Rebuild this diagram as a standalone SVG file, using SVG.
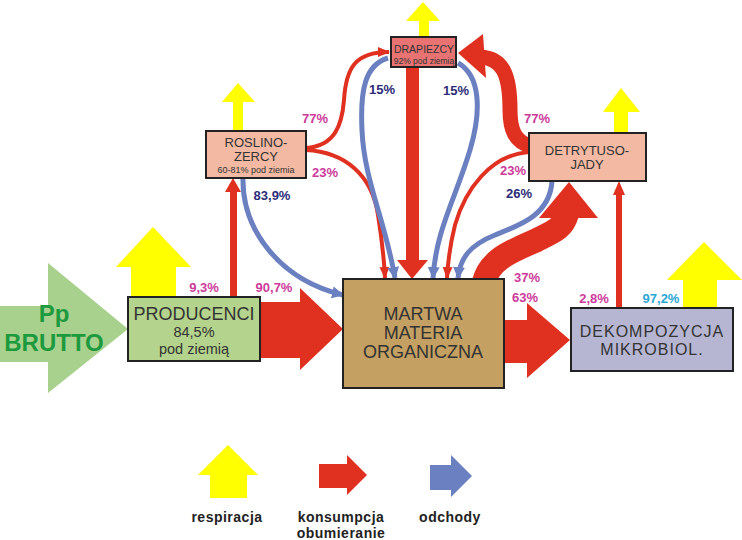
<svg xmlns="http://www.w3.org/2000/svg" width="742" height="540" viewBox="0 0 742 540">
<defs>
<style>
.box{stroke:#222;stroke-width:2}
.t{font-family:"Liberation Sans",Arial,sans-serif;fill:#333;text-anchor:middle}
.lab{font-family:"Liberation Sans",Arial,sans-serif;font-weight:bold;font-size:13px;text-anchor:middle}
.pink{fill:#cc3a9a}
.navy{fill:#2c2c78}
.cyan{fill:#2aa6d6}
.yel{fill:#ffff00}
.red{fill:#e03020}
.blu{fill:#6b80c0}
.rline{fill:none;stroke:#e03020;stroke-width:4}
.bline{fill:none;stroke:#6b80c0;stroke-width:5}
.leg{font-family:"Liberation Sans",Arial,sans-serif;font-weight:bold;font-size:14px;fill:#222;text-anchor:middle}
</style>
<marker id="ahR" viewBox="0 0 12 10" refX="11" refY="5" markerWidth="12" markerHeight="10" markerUnits="userSpaceOnUse" orient="auto"><path d="M0,0 L12,5 L0,10 z" fill="#e03020"/></marker>
<marker id="ahB" viewBox="0 0 12 12" refX="11" refY="6" markerWidth="12" markerHeight="13" markerUnits="userSpaceOnUse" orient="auto"><path d="M0,0 L12,6 L0,12 z" fill="#6b80c0"/></marker>
</defs>
<rect width="742" height="540" fill="#ffffff"/>

<g id="respiration">
<polygon class="yel" points="131,297 131,267 116,267 153,227 191,267 176,267 176,297"/>
<polygon class="yel" points="233,131 233,102 222,102 238,83 255,102 243,102 243,131"/>
<polygon class="yel" points="419,37 419,21 406,21 423,2 440,21 429,21 429,37"/>
<polygon class="yel" points="614,133 614,112 603,112 621,88 640,112 628,112 628,133"/>
<polygon class="yel" points="683,308 683,280 667,280 704,242 742,280 717,280 717,308"/>
</g>

<g id="connectors">
<!-- Pp brutto input -->
<polygon points="0,306 48,306 48,263 128,329 48,393 48,362 0,362" fill="#a9d18e"/>
<!-- producenci -> martwa -->
<polygon class="red" points="260,302 300,302 300,288 343,329 300,370 300,358 260,358"/>
<!-- producenci -> roslinozercy -->
<rect class="red" x="230" y="190" width="7" height="107"/>
<polygon class="red" points="225,192 241,192 233,178"/>
<!-- martwa -> dekompozycja -->
<polygon class="red" points="504,320 527,320 527,303 570,340 527,378 527,363 504,363"/>
<!-- dekompozycja -> detrytusojady -->
<rect class="red" x="616" y="193" width="6" height="115"/>
<polygon class="red" points="613,195 625,195 619,181"/>
<!-- drapiezcy -> martwa thick -->
<rect class="red" x="406" y="67" width="13" height="195"/>
<polygon class="red" points="397,260 428,260 412,279"/>
<!-- martwa -> detrytusojady thick curve -->
<path d="M 484 282 C 490 258, 515 250, 537 240 C 555 231, 563 228, 567 214" fill="none" stroke="#e03020" stroke-width="24"/>
<polygon class="red" points="539,218 598,218 569,182"/>
<!-- detrytusojady -> drapiezcy thick curve -->
<path d="M 531 146 C 515 142, 510 130, 510 110 C 510 75, 503 58, 480 57" fill="none" stroke="#e03020" stroke-width="15"/>
<polygon class="red" points="458,53 483,34 486,78"/>
<!-- thin red -->
<path class="rline" d="M 306 148 C 335 146, 342 125, 344 100 C 346 68, 355 52, 389 52" marker-end="url(#ahR)"/>
<path class="rline" d="M 306 150 C 345 152, 372 175, 378 215 C 382 240, 384 258, 385 278" marker-end="url(#ahR)"/>
<path class="rline" d="M 529 152 C 490 155, 465 190, 455 225 C 450 245, 448 260, 447 278" marker-end="url(#ahR)"/>
<!-- blue -->
<path class="bline" d="M 388 58 C 365 65, 360 90, 362 130 C 364 180, 385 220, 395 278" marker-end="url(#ahB)"/>
<path class="bline" d="M 458 63 C 480 75, 482 110, 470 150 C 455 200, 436 230, 433 278" marker-end="url(#ahB)"/>
<path class="bline" d="M 552 181 C 550 215, 520 225, 495 235 C 470 245, 460 258, 458 278" marker-end="url(#ahB)"/>
<path class="bline" d="M 243 178 C 242 230, 280 280, 343 295" marker-end="url(#ahB)"/>
</g>

<g id="pp-brutto">
<text x="54" y="322" font-family="Liberation Sans,Arial,sans-serif" font-weight="bold" font-size="24" fill="#1e9a3e" text-anchor="middle">Pp</text>
<text x="54" y="351" font-family="Liberation Sans,Arial,sans-serif" font-weight="bold" font-size="24" fill="#1e9a3e" text-anchor="middle">BRUTTO</text>
</g>

<g id="producenci">
<rect class="box" x="128" y="297" width="132" height="64" fill="#b4d38c"/>
<text class="t" x="194" y="320" font-size="18">PRODUCENCI</text>
<text class="t" x="194" y="337" font-size="14.5">84,5%</text>
<text class="t" x="194" y="354" font-size="14.5">pod ziemią</text>
</g>

<g id="roslinozercy">
<rect class="box" x="206" y="131" width="100" height="47" fill="#f4b9a2"/>
<text class="t" x="256" y="147" font-size="13">ROSLINO-</text>
<text class="t" x="256" y="161" font-size="13">ZERCY</text>
<text class="t" x="256" y="173" font-size="9">60-81% pod ziemia</text>
</g>

<g id="drapiezcy">
<rect class="box" x="391" y="37" width="65" height="30" fill="#e97372"/>
<text class="t" x="424" y="53" font-size="10.5">DRAPIEZCY</text>
<text class="t" x="424" y="64" font-size="8.5">92% pod ziemią</text>
</g>

<g id="detrytusojady">
<rect class="box" x="529" y="133" width="117" height="48" fill="#f4b9a2"/>
<text class="t" x="587" y="155" font-size="13">DETRYTUSO-</text>
<text class="t" x="587" y="169" font-size="13">JADY</text>
</g>

<g id="martwa">
<rect class="box" x="343" y="279" width="161" height="109" fill="#c4a062"/>
<text class="t" x="423" y="320" font-size="18">MARTWA</text>
<text class="t" x="423" y="339" font-size="18">MATERIA</text>
<text class="t" x="423" y="358" font-size="18">ORGANICZNA</text>
</g>

<g id="dekompozycja">
<rect class="box" x="571" y="308" width="162" height="63" fill="#b6b6d2"/>
<text class="t" x="652" y="337" font-size="16" letter-spacing="1">DEKOMPOZYCJA</text>
<text class="t" x="652" y="355" font-size="16" letter-spacing="1">MIKROBIOL.</text>
</g>

<g id="labels">
<text class="lab pink" x="204" y="292">9,3%</text>
<text class="lab pink" x="274" y="292">90,7%</text>
<text class="lab pink" x="315" y="123">77%</text>
<text class="lab pink" x="325" y="177">23%</text>
<text class="lab navy" x="272" y="200">83,9%</text>
<text class="lab navy" x="382" y="94">15%</text>
<text class="lab navy" x="456" y="95">15%</text>
<text class="lab pink" x="537" y="123">77%</text>
<text class="lab pink" x="513" y="175">23%</text>
<text class="lab navy" x="519" y="198">26%</text>
<text class="lab pink" x="527" y="282">37%</text>
<text class="lab pink" x="525" y="302">63%</text>
<text class="lab pink" x="594" y="303">2,8%</text>
<text class="lab cyan" x="661" y="303">97,2%</text>
</g>

<g id="legend">
<polygon class="yel" points="210,498 210,475 198,475 228,445 258,475 247,475 247,498"/>
<polygon class="red" points="319,464 347,464 347,455 367,475 347,495 347,488 319,488"/>
<polygon class="blu" points="430,465 451,465 451,455 472,476 451,497 451,490 430,490"/>
<text class="leg" x="227" y="522" letter-spacing="0.5">respiracja</text>
<text class="leg" x="341" y="522" letter-spacing="0.5">konsumpcja</text>
<text class="leg" x="341" y="538" letter-spacing="0.5">obumieranie</text>
<text class="leg" x="450" y="522" letter-spacing="0.5">odchody</text>
</g>
</svg>
